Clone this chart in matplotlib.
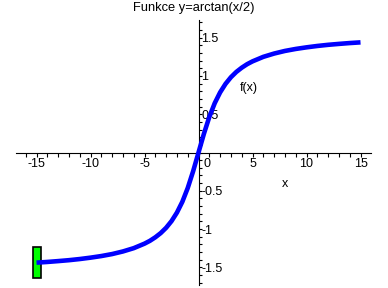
import numpy as np
import matplotlib
matplotlib.use('Agg')
import matplotlib.pyplot as plt
from matplotlib.patches import Rectangle
from matplotlib.ticker import MultipleLocator
from matplotlib.transforms import ScaledTranslation

plt.rcParams['font.family'] = 'Liberation Sans'

# hodnoty
xs = [-15, -14, -13, -12, -11, -10, -9, -8, -7, -6, -5, -4.5, -4, -3.5, -3, -2.5, -2, -1.5, -1, -0.5,
      0, 0.5, 1, 1.5, 2, 2.5, 3, 3.5, 4, 4.5, 5, 6, 7, 8, 9, 10, 11, 12, 13, 14, 15]
ys = [-1.438, -1.429, -1.418, -1.406, -1.391, -1.373, -1.352, -1.326, -1.292, -1.249, -1.190, -1.153,
      -1.107, -1.052, -0.983, -0.896, -0.785, -0.644, -0.464, -0.245,
      0.0, 0.245, 0.464, 0.644, 0.785, 0.896, 0.983, 1.052, 1.107, 1.153, 1.190, 1.249, 1.292,
      1.326, 1.352, 1.373, 1.391, 1.406, 1.418, 1.429, 1.438]
xticks = [-15, -10, -5, 0, 5, 10, 15]
xlabels = ['-15', '-10', '-5', '0', '5', '10', '15']
yticks = [-1.5, -1, -0.5, 0.5, 1, 1.5]
ylabels = ['-1.5', '-1', '-0.5', '0.5', '1', '1.5']

fig = plt.figure(figsize=(3.88, 2.88), dpi=100)
ax = fig.add_axes([16/388, 3/288, 355/388, 265/288])
ax.set_xlim(-16.9, 15.97)
ax.set_ylim(-1.73, 1.73)

ax.spines['left'].set_position(('data', 0))
ax.spines['bottom'].set_position(('data', 0))
ax.spines['top'].set_visible(False)
ax.spines['right'].set_visible(False)
for s in ['left', 'bottom']:
    ax.spines[s].set_linewidth(0.8)

ax.set_xticks(xticks, xlabels)
ax.set_yticks(yticks, ylabels)
ax.xaxis.set_minor_locator(MultipleLocator(1))
ax.yaxis.set_minor_locator(MultipleLocator(0.1))
ax.tick_params(axis='x', which='both', direction='out', length=3, width=0.8, pad=1.2, labelsize=9)
ax.tick_params(axis='y', which='both', direction='in', length=2.3, width=0.8, pad=-2, labelsize=9)
for lbl in ax.get_yticklabels():
    lbl.set_horizontalalignment('left')
# nula posunuta doprava od osy
lbl0 = ax.get_xticklabels()[3]
lbl0.set_transform(lbl0.get_transform() + ScaledTranslation(8/100, 0, fig.dpi_scale_trans))

ax.add_patch(Rectangle((xs[0] - 0.37, ys[0] - 0.2), 0.74, 0.4, facecolor='#00ff00',
                       edgecolor='black', linewidth=1.2, zorder=2))
ax.plot(xs, ys, color='#0000ff', linewidth=3.3, solid_capstyle='butt', zorder=3)

ax.text(4.63, 0.84, 'f(x)', fontsize=9, ha='center', va='center')
ax.text(7.96, -0.41, 'x', fontsize=9, ha='center', va='center')
fig.text(0.5, 1 - 1.5/288, 'Funkce y=arctan(x/2)', fontsize=9.3, ha='center', va='top')

fig.savefig('out.png', dpi=100)
